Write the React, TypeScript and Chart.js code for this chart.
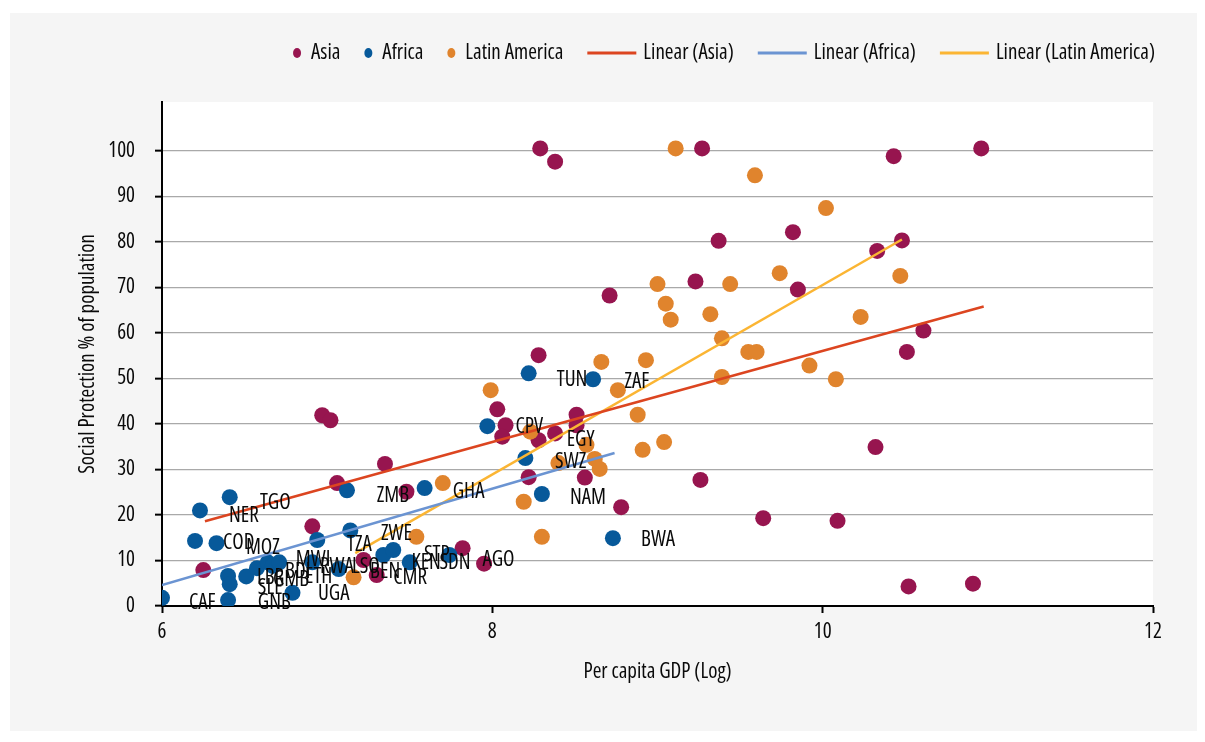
import React, { useEffect, useRef } from 'react';
import { Chart, registerables } from 'chart.js';

Chart.register(...registerables);

const FAMILY = "'Open Sans', 'Roboto', sans-serif";
const STRETCH = 'condensed';
const FSIZE = 21;
const CANVAS_FONT = `${STRETCH} ${FSIZE}px ${FAMILY}`;
const chartFont = { family: FAMILY, size: FSIZE, weight: STRETCH as any };
const TEXT = '#0a0a0a';

// ---- data (x = log per capita GDP, y = social protection % of population)
const asiaPoints: [number, number][] = [
  [8.29, 100.5], [8.38, 97.6], [9.27, 100.5], [10.43, 98.8], [10.96, 100.5],
  [9.37, 80.2], [9.82, 82.1], [10.48, 80.3], [10.33, 78.0], [9.23, 71.3],
  [9.85, 69.5], [8.71, 68.2], [10.61, 60.5], [10.51, 55.8], [8.28, 55.1],
  [8.03, 43.2], [6.97, 41.9], [7.02, 40.8], [8.51, 42.0], [8.51, 39.7],
  [8.08, 39.7], [8.06, 37.2], [8.28, 36.4], [8.38, 37.9], [8.22, 28.3],
  [8.56, 28.2], [8.78, 21.7], [9.26, 27.7], [10.32, 34.9], [9.64, 19.3],
  [10.09, 18.7], [10.52, 4.3], [10.91, 4.9], [7.35, 31.2], [7.48, 25.1],
  [7.06, 27.0], [6.91, 17.5], [6.25, 7.9], [7.82, 12.7], [7.95, 9.3],
  [7.22, 10.1], [7.30, 6.8],
];

const africaPoints: [number, number][] = [
  [6.0, 1.8], [6.23, 21.0], [6.41, 23.9], [6.2, 14.3], [6.33, 13.8],
  [6.40, 6.6], [6.41, 4.8], [6.40, 1.3], [6.51, 6.5], [6.575, 8.3],
  [6.64, 9.6], [6.67, 8.8], [6.71, 9.6], [6.79, 2.9], [6.94, 14.5],
  [6.91, 9.6], [7.07, 8.1], [7.14, 16.6], [7.12, 25.4], [7.34, 11.2],
  [7.40, 12.3], [7.50, 9.6], [7.74, 11.2], [7.59, 25.9], [7.97, 39.5],
  [8.22, 51.1], [8.61, 49.8], [8.20, 32.5], [8.30, 24.6], [8.73, 14.9],
];

const latinPoints: [number, number][] = [
  [9.11, 100.5], [9.59, 94.6], [10.02, 87.4], [9.0, 70.7], [9.05, 66.4],
  [9.08, 62.9], [9.32, 64.1], [9.44, 70.7], [9.74, 73.1], [10.47, 72.5],
  [10.23, 63.5], [9.39, 58.8], [9.55, 55.8], [9.6, 55.8], [8.66, 53.6],
  [8.93, 54.0], [9.39, 50.3], [9.92, 52.8], [10.08, 49.8], [8.76, 47.4],
  [7.99, 47.4], [8.88, 42.0], [8.23, 38.3], [8.57, 35.4], [9.04, 36.0],
  [8.91, 34.3], [8.40, 31.4], [8.62, 32.3], [8.65, 30.1], [7.70, 27.0],
  [8.19, 22.9], [8.30, 15.2], [7.54, 15.2], [7.16, 6.3],
];

const asiaTrend: [number, number][] = [[6.26, 18.6], [10.975, 65.8]];
const africaTrend: [number, number][] = [[6.0, 4.6], [8.74, 33.6]];
const latinTrend: [number, number][] = [[7.17, 11.6], [10.48, 80.5]];

// country code labels: [text, x (left), y (middle)]
const countryLabels: [string, number, number][] = [
  ['TGO', 6.593, 22.6], ['NER', 6.406, 19.7], ['COD', 6.369, 13.8], ['MOZ', 6.508, 12.7],
  ['CAF', 6.163, 0.7], ['GNB', 6.58, 0.7], ['SLE', 6.58, 3.9], ['LBR', 6.575, 6.1],
  ['GMB', 6.672, 5.7], ['BDI', 6.745, 7.4], ['MWI', 6.81, 10.1], ['ETH', 6.866, 6.4],
  ['RWA', 6.956, 8.6], ['LSO', 7.15, 8.6], ['UGA', 6.944, 2.6], ['TZA', 7.12, 13.4],
  ['ZWE', 7.326, 15.8], ['BEN', 7.26, 7.5], ['CMR', 7.40, 6.1], ['KEN', 7.51, 9.4],
  ['STP', 7.586, 11.2], ['SDN', 7.68, 9.4], ['AGO', 7.94, 10.1], ['ZMB', 7.30, 24.1],
  ['GHA', 7.76, 25.0], ['CPV', 8.14, 39.3], ['EGY', 8.45, 36.4], ['SWZ', 8.38, 31.6],
  ['NAM', 8.47, 23.7], ['BWA', 8.90, 14.5], ['TUN', 8.39, 49.6], ['ZAF', 8.80, 49.1],
];

const xTickValues = [6, 8, 10, 12];
const yTickValues = [0, 10, 20, 30, 40, 50, 60, 70, 80, 90, 100];

const ASIA = '#97154f';
const AFRICA = '#07599a';
const LATIN = '#e0842d';
const ASIA_LINE = '#dc4520';
const AFRICA_LINE = '#6b94d2';
const LATIN_LINE = '#fbb533';

const legendItems = [
  { label: 'Asia', color: ASIA, kind: 'dot' },
  { label: 'Africa', color: AFRICA, kind: 'dot' },
  { label: 'Latin America', color: LATIN, kind: 'dot' },
  { label: 'Linear (Asia)', color: ASIA_LINE, kind: 'line' },
  { label: 'Linear (Africa)', color: AFRICA_LINE, kind: 'line' },
  { label: 'Linear (Latin America)', color: LATIN_LINE, kind: 'line' },
];

const toXY = (arr: [number, number][]) => arr.map(([x, y]) => ({ x, y }));

const backgroundPlugin = {
  id: 'bgPanel',
  beforeDraw(chart: any) {
    const { ctx, chartArea } = chart;
    ctx.save();
    ctx.fillStyle = '#ffffff';
    ctx.fillRect(0, 0, chart.width, chart.height);
    ctx.fillStyle = '#f5f5f5';
    ctx.fillRect(10, 13, 1187, 718);
    ctx.fillStyle = '#ffffff';
    ctx.fillRect(chartArea.left, chartArea.top, chartArea.right - chartArea.left, chartArea.bottom - chartArea.top);
    ctx.restore();
  },
};

const labelPlugin = {
  id: 'countryLabels',
  afterDatasetsDraw(chart: any) {
    const { ctx, scales } = chart;
    ctx.save();
    ctx.font = CANVAS_FONT;
    ctx.fillStyle = TEXT;
    ctx.textAlign = 'left';
    ctx.textBaseline = 'middle';
    countryLabels.forEach(([t, x, y]) => {
      ctx.fillText(t, scales.x.getPixelForValue(x), scales.y.getPixelForValue(y));
    });
    ctx.restore();
  },
};

const legendPlugin = {
  id: 'customLegend',
  afterDraw(chart: any) {
    const { ctx } = chart;
    ctx.save();
    ctx.font = CANVAS_FONT;
    ctx.textBaseline = 'middle';
    ctx.textAlign = 'left';
    const y = 53;
    const DOT_W = 18;
    const LINE_W = 56;
    const widths = legendItems.map(
      (it) => (it.kind === 'dot' ? DOT_W : LINE_W) + ctx.measureText(it.label).width
    );
    const gap = 24;
    const total = widths.reduce((a, b) => a + b, 0) + gap * (legendItems.length - 1);
    let x = 1155 - total;
    legendItems.forEach((it, i) => {
      let tx;
      if (it.kind === 'dot') {
        ctx.fillStyle = it.color;
        ctx.beginPath();
        ctx.ellipse(x + 4, y, 4, 5, 0, 0, Math.PI * 2);
        ctx.fill();
        tx = x + DOT_W;
      } else {
        ctx.strokeStyle = it.color;
        ctx.lineWidth = 3;
        ctx.beginPath();
        ctx.moveTo(x, y);
        ctx.lineTo(x + 49, y);
        ctx.stroke();
        tx = x + LINE_W;
      }
      ctx.fillStyle = TEXT;
      ctx.fillText(it.label, tx, y);
      x += widths[i] + gap;
    });
    ctx.restore();
  },
};

export default function App() {
  const ref = useRef<HTMLCanvasElement | null>(null);

  useEffect(() => {
    if (!ref.current) return;
    const pointDs = (label: string, data: [number, number][], color: string, order: number) => ({
      type: 'scatter' as const,
      label,
      data: toXY(data),
      backgroundColor: color,
      borderColor: color,
      borderWidth: 0,
      pointRadius: 8,
      pointHoverRadius: 8,
      order,
    });
    const lineDs = (label: string, data: [number, number][], color: string) => ({
      type: 'line' as const,
      label,
      data: toXY(data),
      borderColor: color,
      backgroundColor: color,
      borderWidth: 2.5,
      pointRadius: 0,
      showLine: true,
      fill: false,
      order: 0,
    });

    const chart = new Chart(ref.current, {
      type: 'scatter',
      data: {
        datasets: [
          pointDs('Asia', asiaPoints, ASIA, 3),
          pointDs('Africa', africaPoints, AFRICA, 2),
          pointDs('Latin America', latinPoints, LATIN, 1),
          lineDs('Linear (Asia)', asiaTrend, ASIA_LINE),
          lineDs('Linear (Africa)', africaTrend, AFRICA_LINE),
          lineDs('Linear (Latin America)', latinTrend, LATIN_LINE),
        ] as any,
      },
      options: {
        responsive: false,
        animation: false,
        devicePixelRatio: 1,
        layout: { padding: { left: 0, right: 52, top: 102, bottom: 0 } },
        plugins: {
          legend: { display: false },
          tooltip: { enabled: false },
        },
        scales: {
          x: {
            type: 'linear',
            min: 6,
            max: 12,
            afterFit: (s: any) => { s.height = 136; },
            afterBuildTicks: (s: any) => { s.ticks = xTickValues.map((v) => ({ value: v })); },
            grid: {
              drawOnChartArea: false,
              drawTicks: true,
              tickLength: 7,
              tickColor: '#000',
              tickWidth: 2,
            },
            border: { color: '#000', width: 2 },
            ticks: {
              font: chartFont,
              color: TEXT,
              padding: 6,
              maxRotation: 0,
            },
            title: {
              display: true,
              text: 'Per capita GDP (Log)',
              font: chartFont,
              color: TEXT,
              padding: { top: 0, bottom: 57 },
            },
          },
          y: {
            type: 'linear',
            min: 0,
            max: 110.7,
            afterFit: (s: any) => { s.width = 162; },
            afterBuildTicks: (s: any) => {
              s.ticks = yTickValues.map((v) => ({ value: v }));
            },
            grid: {
              color: '#a9a9a9',
              lineWidth: 1.3,
              drawTicks: true,
              tickLength: 7,
              tickColor: '#000',
              tickWidth: 2,
            },
            border: { color: '#000', width: 2 },
            ticks: {
              font: chartFont,
              color: TEXT,
              padding: 20,
              callback: (v: any) => String(v),
            },
            title: {
              display: true,
              text: 'Social Protection % of population',
              font: chartFont,
              color: TEXT,
              padding: { top: 75, bottom: 0 },
            },
          },
        },
      },
      plugins: [backgroundPlugin, labelPlugin, legendPlugin],
    });
    return () => chart.destroy();
  }, []);

  return (
    <div style={{ position: 'absolute', left: 0, top: 0, width: 1205, height: 742, background: '#fff' }}>
      <canvas ref={ref} width={1205} height={742} style={{ width: 1205, height: 742, display: 'block' }} />
    </div>
  );
}
